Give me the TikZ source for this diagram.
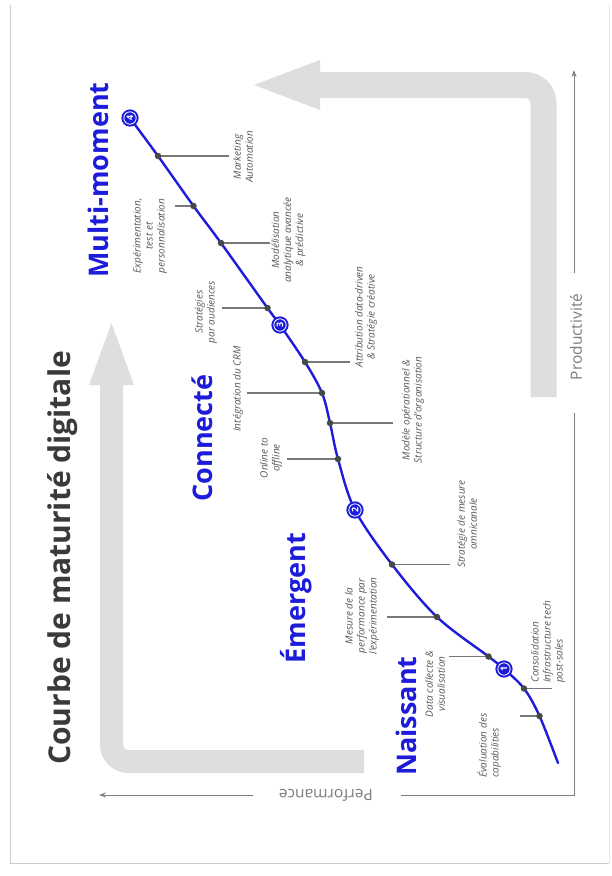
\documentclass[tikz,border=0pt]{standalone}
\usepackage{fontspec}
\setmainfont{Open Sans}
\usetikzlibrary{arrows.meta}
\definecolor{mblue}{RGB}{28,28,218}
\definecolor{titlegray}{RGB}{58,58,58}
\definecolor{labgray}{RGB}{88,88,88}
\definecolor{leadgray}{RGB}{120,120,120}
\definecolor{dotgray}{RGB}{70,74,70}
\definecolor{bandgray}{RGB}{220,222,224}
\definecolor{axisgray}{RGB}{125,125,125}
\definecolor{framegray}{RGB}{205,205,205}
\begin{document}
\begin{tikzpicture}[x=1pt,y=-1pt,
  lbl/.style={rotate=90,font=\fontsize{10}{12}\selectfont\itshape,text=labgray,align=center,inner sep=0pt},
  stage/.style={rotate=90,font=\fontsize{27}{30}\selectfont\bfseries,text=mblue,inner sep=0pt},
  dotn/.style={circle,fill=dotgray,inner sep=0pt,minimum size=6.5pt},
  numc/.style={circle,fill=mblue,draw=mblue,line width=1.2pt,inner sep=0pt,minimum size=16pt,text=white,
    font=\fontsize{9}{9}\selectfont\bfseries,rotate=90,
    path picture={\draw[white,line width=0.8pt] (path picture bounding box.center) circle[radius=6.2pt];}},
  leader/.style={draw=leadgray,line width=1.1pt},
  band/.style={draw=bandgray},
  axis/.style={draw=axisgray,line width=1pt},
  axlbl/.style={font=\fontsize{15.5}{16}\selectfont,text=axisgray,inner sep=0pt}
]
\useasboundingbox (0,0) rectangle (612,876);
\fill[white] (0,0) rectangle (612,876);
% frame
\draw[framegray,line width=1pt] (10,5) -- (10,863) -- (609,863);
\draw[framegray!50,line width=0.8pt] (609,863) -- (609,5);

% gray band arrows
\draw[band,line width=23pt,rounded corners=17pt] (364,761.5) -- (111.5,761.5) -- (111.5,384);
\fill[bandgray] (89,385) -- (111.5,323) -- (134,385) -- cycle;
\draw[band,line width=26pt,rounded corners=18pt] (543.5,397) -- (543.5,85) -- (319,85);
\fill[bandgray] (320,60) -- (254,85) -- (320,110) -- cycle;

% axes
\coordinate (ax0) at (574,795);
\coordinate (axP1) at (574,413);
\coordinate (axP2) at (574,273);
\coordinate (axPtip) at (574,70);
\coordinate (axF1) at (401,795);
\coordinate (axF2) at (253,795);
\coordinate (axFtip) at (99,795);
\draw[axis] (axP1) -- (ax0) -- (axF1);
\draw[axis,-{Stealth[length=7pt,width=5pt]}] (axP2) -- (axPtip);
\draw[axis,-{Stealth[length=7pt,width=5pt]}] (axF2) -- (axFtip);
\node[axlbl,rotate=90] (prod) at (576,337) {Productivité};
\node[axlbl,rotate=180] (perf) at (326,795) {Performance};

% title
\node[rotate=90,font=\fontsize{30}{32}\selectfont\bfseries,text=titlegray,inner sep=0pt] (title) at (63,558) {Courbe de maturité digitale};

% stage labels
\node[stage] (smm) at (98,180) {Multi-moment};
\node[stage] (sco) at (202,438) {Connecté};
\node[stage] (sem) at (296,598) {Émergent};
\node[stage] (sna) at (406,716) {Naissant};

% curve points
\coordinate (p0) at (558,763);
\coordinate (pEva) at (539.5,716);
\coordinate (pCon) at (524,688.5);
\coordinate (pc1) at (504,669);
\coordinate (pDat) at (488.5,656.5);
\coordinate (pMes) at (437,617);
\coordinate (pStm) at (392,564.5);
\coordinate (pc2) at (355,510);
\coordinate (pOnl) at (338,459);
\coordinate (pMod) at (330,423);
\coordinate (pInt) at (322,393);
\coordinate (pAtt) at (305,362);
\coordinate (pc3) at (280,325);
\coordinate (pStr) at (267.5,308);
\coordinate (pMdl) at (221,243);
\coordinate (pExp) at (193.5,206);
\coordinate (pMkt) at (158,156);
\coordinate (pc4) at (130,118);

\draw[mblue,line width=2.4pt,line cap=round] plot[smooth,tension=0.55] coordinates
  {(p0) (pEva) (pCon) (pc1) (pDat) (pMes) (pStm) (pc2) (pOnl) (pMod) (pInt) (pAtt) (pc3) (pStr) (pMdl) (pExp) (pMkt) (pc4)};

% leader ends
\coordinate (eMkt) at (229,156);
\coordinate (eExp) at (175,206);
\coordinate (eMdl) at (270,243);
\coordinate (eStr) at (222,308);
\coordinate (eAtt) at (350,362);
\coordinate (eInt) at (247,393);
\coordinate (eMod) at (393,423);
\coordinate (eOnl) at (287,459);
\coordinate (eStm) at (450,564.5);
\coordinate (eMes) at (387,617);
\coordinate (eDat) at (449,656.5);
\coordinate (eCon) at (552,688.5);
\coordinate (eEva) at (520,716);

\foreach \a in {Mkt,Exp,Mdl,Str,Att,Int,Mod,Onl,Stm,Mes,Dat,Con,Eva}{
  \draw[leader] (p\a) -- (e\a);
  \node[dotn] (d\a) at (p\a) {};
}

% numbered circles
\node[numc] (c1) at (pc1) {1};
\node[numc] (c2) at (pc2) {2};
\node[numc] (c3) at (pc3) {3};
\node[numc] (c4) at (pc4) {4};

% labels
\node[lbl] (lMkt) at (243,157) {Marketing\\Automation};
\node[lbl] (lExp) at (150,236) {Expérimentation,\\test et\\personnalisation};
\node[lbl] (lMdl) at (288.5,240) {Modélisation\\analytique avancée\\\& prédictive};
\node[lbl] (lStr) at (206,312) {Stratégies\\par audiences};
\node[lbl] (lAtt) at (366,317) {Attribution data-driven\\\& Stratégie créative};
\node[lbl] (lInt) at (238,389) {Intégration du CRM};
\node[lbl] (lMod) at (413,410) {Modèle opérationnel \&\\Structure d'organisation};
\node[lbl] (lOnl) at (271,458) {Online to\\offline};
\node[lbl] (lStm) at (467,524) {Stratégie de mesure\\omnicanale};
\node[lbl] (lMes) at (362,616) {Mesure de la\\performance par\\l'expérimentation};
\node[lbl] (lDat) at (435,684) {Data collecte \&\\visualisation};
\node[lbl,align=left,anchor=west] (lCon) at (548,683) {Consolidation\\Infrastructure tech\\post-sales};
\node[lbl,align=left,anchor=west] (lEva) at (489,778) {Évaluation des\\capabilities};
\end{tikzpicture}
\end{document}
